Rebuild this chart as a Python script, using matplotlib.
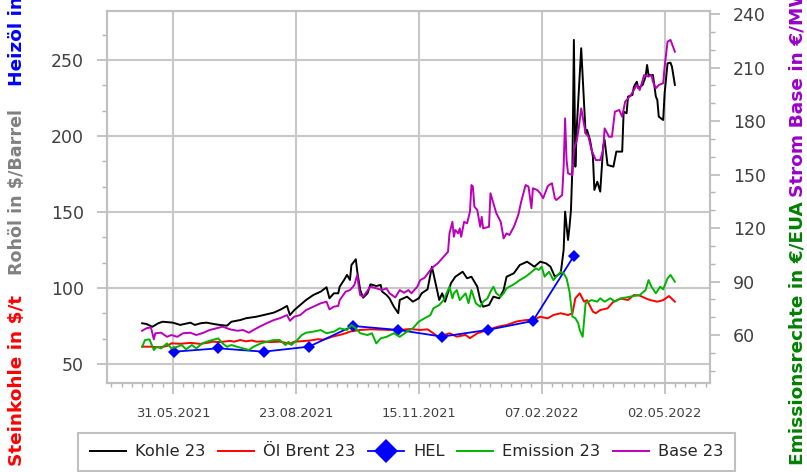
import numpy as np
import matplotlib
matplotlib.use("Agg")
import matplotlib.pyplot as plt
import matplotlib.dates as mdates
from matplotlib.ticker import MultipleLocator, AutoMinorLocator, FixedLocator

plt.rcParams['font.family'] = ['DejaVu Sans']

# day offsets counted from the first trading day
start = np.datetime64('2021-05-10')

kohle_days = [0, 3, 7, 11, 14, 21, 26, 33, 36, 40, 44, 49, 53, 58, 61, 67, 71, 78, 83, 90,
              95, 99, 101, 104, 108, 112, 117, 122, 126, 128, 131, 134, 135, 138, 140, 142,
              143, 146, 147, 149, 151, 154, 156, 160, 163, 164, 167, 169, 172, 175, 176, 181,
              185, 189, 191, 195, 198, 200, 203, 205, 207, 211, 214, 219, 222, 225, 229, 231,
              233, 237, 240, 244, 247, 249, 254, 258, 263, 268, 272, 276, 279, 282, 286, 288,
              289, 291, 292, 293, 294, 295, 296, 297, 300, 303, 304, 306, 308, 309, 311, 313,
              315, 316, 318, 322, 324, 328, 329, 331, 332, 335, 336, 338, 339, 342, 344, 345,
              346, 349, 351, 352, 353, 356, 357, 359, 361, 362, 364]
kohle = [76.8, 76.3, 74.5, 76.8, 77.8, 77.2, 75.7, 77.2, 75.7, 76.8, 77.2, 76.3, 75.7, 75.2,
         77.8, 78.9, 80.1, 81.1, 82.2, 83.8, 86.0, 88.2, 82.2, 85.5, 88.8, 92.1, 95.4, 97.6,
         100.5, 93.2, 96.5, 96.5, 100.9, 105.3, 108.6, 105.3, 115.1, 118.9, 110.7, 98.7, 93.6,
         96.5, 102.4, 101.3, 102.0, 97.6, 95.4, 93.2, 87.7, 83.4, 92.1, 94.3, 91.0, 93.2, 96.5,
         99.1, 114.0, 105.3, 92.1, 96.5, 91.0, 103.1, 107.4, 110.7, 106.4, 107.4, 100.9, 92.1,
         87.7, 88.8, 94.3, 93.2, 98.7, 107.4, 109.7, 115.1, 117.3, 114.0, 117.3, 116.2, 114.0,
         107.4, 109.7, 125.0, 150.2, 131.6, 140.3, 151.3, 179.8, 263.2, 179.8, 206.1, 257.7,
         201.8, 204.0, 197.4, 186.4, 164.5, 169.9, 163.4, 193.0, 197.4, 180.9, 179.8, 189.7,
         189.7, 216.0, 214.9, 225.9, 227.0, 232.4, 235.7, 231.4, 233.6, 239.0, 246.7, 240.1,
         240.1, 225.9, 223.7, 212.7, 210.5, 228.1, 247.8, 248.2, 245.6, 233.6]

oel_days = [0, 5, 12, 17, 20, 26, 33, 40, 46, 48, 53, 60, 63, 67, 71, 75, 78, 83, 87, 94, 99,
            101, 104, 108, 115, 120, 124, 130, 135, 139, 142, 149, 156, 163, 169, 176, 183, 190,
            195, 199, 202, 206, 210, 215, 221, 224, 229, 236, 243, 249, 256, 263, 267, 272, 277,
            281, 286, 291, 294, 296, 299, 302, 304, 308, 310, 313, 318, 322, 327, 332, 336, 340,
            344, 347, 352, 356, 360, 364]
oel = [61.4, 61.4, 61.0, 61.8, 63.6, 63.3, 63.9, 63.2, 64.2, 64.7, 64.4, 65.2, 64.7, 65.8,
       64.9, 65.5, 64.7, 64.9, 64.4, 64.7, 63.8, 63.2, 64.7, 64.9, 65.5, 66.3, 66.0, 68.0, 69.1,
       70.2, 71.3, 72.4, 72.8, 72.6, 72.4, 72.4, 73.0, 72.4, 72.8, 70.2, 68.0, 68.9, 70.2, 68.0,
       69.1, 67.0, 70.2, 72.4, 74.5, 75.6, 78.0, 79.0, 78.9, 81.1, 80.0, 82.2, 83.4, 82.2, 83.4,
       93.2, 96.5, 91.0, 92.0, 84.4, 83.4, 85.5, 86.6, 91.0, 93.0, 92.1, 95.4, 95.0, 93.2, 92.1,
       91.0, 92.0, 94.7, 91.0]

hel_days = [22, 52, 83, 114, 144, 175, 205, 236, 267, 295]
hel = [58.1, 60.3, 58.1, 61.4, 75.0, 72.4, 68.0, 72.4, 78.3, 121.1]

emission_days = [0, 2, 5, 8, 10, 13, 17, 20, 24, 27, 30, 34, 37, 41, 44, 48, 52, 55, 58, 61, 65,
                 69, 73, 76, 81, 85, 90, 94, 98, 100, 102, 106, 109, 112, 117, 122, 126, 131,
                 135, 140, 143, 146, 149, 154, 157, 160, 163, 167, 172, 176, 181, 185, 189, 193,
                 197, 199, 203, 206, 208, 210, 212, 213, 215, 217, 221, 223, 225, 228, 231, 233,
                 236, 238, 240, 242, 245, 247, 249, 253, 255, 258, 262, 265, 269, 271, 273, 275,
                 278, 281, 283, 286, 288, 290, 292, 294, 296, 298, 299, 301, 302, 303, 305, 307,
                 311, 313, 316, 320, 323, 327, 331, 336, 340, 344, 346, 348, 351, 354, 356, 359,
                 361, 364]
emission = [53.4, 57.2, 57.6, 51.6, 53.4, 52.5, 55.3, 52.5, 53.4, 54.4, 52.0, 54.4, 52.5, 55.3,
            56.2, 57.2, 58.1, 55.3, 53.4, 54.4, 53.4, 52.5, 51.6, 53.4, 55.3, 56.2, 57.2, 57.2,
            54.4, 56.2, 54.4, 57.2, 60.0, 61.3, 61.9, 62.8, 61.0, 61.9, 63.8, 62.8, 65.6, 63.8,
            61.0, 60.0, 61.0, 55.3, 58.1, 59.0, 61.0, 59.0, 61.9, 63.8, 67.5, 69.4, 71.2, 75.0,
            76.8, 79.6, 83.4, 87.1, 80.6, 83.4, 85.2, 79.6, 83.4, 77.8, 85.2, 77.8, 75.9, 78.7,
            80.6, 84.3, 87.1, 83.4, 81.5, 83.4, 86.2, 88.0, 89.0, 90.8, 92.7, 94.6, 97.4, 96.5,
            98.3, 92.7, 95.5, 90.8, 92.7, 95.5, 94.6, 91.8, 84.3, 70.3, 69.4, 66.6, 62.8, 59.0,
            68.4, 77.8, 78.7, 79.6, 78.7, 80.6, 78.7, 80.6, 78.7, 80.6, 81.1, 81.9, 82.4, 85.2,
            90.8, 87.1, 83.4, 87.1, 85.6, 91.8, 93.7, 89.9]

base_days = [0, 3, 6, 8, 9, 13, 17, 20, 24, 28, 33, 37, 42, 46, 51, 55, 60, 65, 69, 73, 76, 81,
             85, 90, 94, 99, 101, 104, 108, 112, 117, 122, 126, 128, 131, 134, 135, 139, 142,
             145, 147, 148, 149, 151, 156, 160, 164, 167, 169, 173, 176, 179, 182, 184, 188, 190,
             193, 197, 199, 202, 206, 209, 210, 212, 213, 214, 216, 217, 218, 220, 222, 224, 225,
             226, 227, 229, 231, 232, 233, 237, 238, 240, 242, 245, 247, 249, 251, 254, 257, 259,
             262, 264, 266, 267, 270, 272, 274, 277, 278, 280, 282, 283, 287, 288, 289, 290, 291,
             294, 295, 297, 298, 300, 303, 305, 307, 310, 313, 315, 316, 319, 321, 323, 326, 328,
             330, 334, 336, 338, 340, 343, 346, 348, 349, 351, 353, 356, 357, 359, 361, 364]
base = [62.4, 63.8, 64.3, 57.6, 61.0, 61.3, 59.0, 60.0, 59.0, 61.0, 61.3, 60.0, 61.3, 62.8,
        63.8, 64.7, 63.2, 62.4, 62.8, 61.3, 62.8, 65.0, 66.6, 68.4, 69.4, 71.2, 68.0, 70.3, 71.2,
        74.0, 75.9, 77.8, 78.7, 74.4, 75.9, 76.3, 79.6, 84.3, 85.2, 88.0, 93.7, 87.1, 82.4, 81.5,
        87.1, 86.2, 85.2, 86.2, 83.4, 81.1, 85.2, 83.7, 85.2, 83.4, 87.1, 90.8, 92.1, 96.5, 98.3,
        100.2, 103.9, 106.7, 117.0, 123.5, 115.1, 118.9, 117.0, 119.8, 115.1, 123.5, 122.6,
        129.2, 144.1, 143.2, 132.0, 130.1, 120.7, 126.3, 119.8, 120.7, 139.5, 133.9, 128.3,
        123.5, 114.2, 117.0, 116.1, 120.7, 127.3, 134.8, 144.1, 143.2, 131.1, 142.3, 141.3,
        139.5, 136.7, 143.2, 144.1, 145.1, 136.7, 135.7, 138.5, 154.4, 181.5, 158.1, 150.7,
        149.7, 163.8, 169.4, 174.0, 187.1, 173.1, 171.2, 163.8, 158.1, 158.1, 163.8, 175.9,
        171.2, 171.2, 185.2, 186.2, 182.4, 190.8, 194.6, 197.4, 200.2, 197.4, 205.8, 204.9,
        205.8, 202.1, 198.4, 200.2, 201.2, 210.5, 224.5, 225.5, 218.9]

tick_dates = ['2021-05-31', '2021-08-23', '2021-11-15', '2022-02-07', '2022-05-02']
labels = ['Kohle 23', 'Öl Brent 23', 'HEL', 'Emission 23', 'Base 23']


def to_dates(days):
    return start + np.array(days).astype('timedelta64[D]')


fig = plt.figure(figsize=(8.07, 4.72), dpi=100)
ax = fig.add_axes([107 / 807, 89 / 472, 603 / 807, 372 / 472])
ax2 = ax.twinx()

l1, = ax.plot(to_dates(kohle_days), kohle, color='black', lw=1.4)
l2, = ax.plot(to_dates(oel_days), oel, color='#ff0000', lw=1.4)
l3, = ax.plot(to_dates(hel_days), hel, color='#0000ff', lw=1.3, marker='D',
              markersize=6.5, markeredgewidth=0)
l4, = ax2.plot(to_dates(emission_days), emission, color='#00b400', lw=1.4)
l5, = ax2.plot(to_dates(base_days), base, color='#bb00bb', lw=1.4)

ax.set_xlim(np.datetime64('2021-04-16'), np.datetime64('2022-06-02'))
ax.set_ylim(37.5, 282.2)
ax2.set_ylim(33.1, 241.7)

ax.xaxis.set_major_locator(FixedLocator(mdates.date2num(np.array(tick_dates, dtype='datetime64[D]'))))
ax.xaxis.set_major_formatter(mdates.DateFormatter('%d.%m.%Y'))
ax.xaxis.set_minor_locator(mdates.WeekdayLocator(byweekday=mdates.MO))
ax.yaxis.set_major_locator(MultipleLocator(50))
ax.yaxis.set_minor_locator(AutoMinorLocator(3))
ax2.yaxis.set_major_locator(MultipleLocator(30))
ax2.yaxis.set_minor_locator(AutoMinorLocator(3))

ax.set_axisbelow(True)
ax.grid(True, which='major', color='#c8c8c8', lw=1.5)

gray = '#b4b4b4'
for a in (ax, ax2):
    for s in a.spines.values():
        s.set_color('#c0c0c0')
        s.set_linewidth(1.5)
    a.tick_params(which='major', length=7.5, width=1.1, color=gray, labelcolor='#404040')
    a.tick_params(which='minor', length=3.5, width=1.0, color=gray)
ax.tick_params(axis='y', which='major', labelsize=12.5, pad=9)
ax2.tick_params(axis='y', which='major', labelsize=12.5, pad=9)
ax.tick_params(axis='x', which='major', labelsize=9.4, pad=9, length=8)
ax.tick_params(axis='x', which='minor', length=3)

# axis titles, several colours stacked vertically
fs = 13.3
fig.text(17 / 807, 6 / 472, 'Steinkohle in $/t', rotation=90, ha='center', va='bottom',
         color='#ff0000', fontsize=fs, fontweight='bold')
fig.text(17 / 807, 197 / 472, 'Rohöl in $/Barrel', rotation=90, ha='center', va='bottom',
         color='#808080', fontsize=12.6, fontweight='bold')
fig.text(17 / 807, 386 / 472, 'Heizöl in', rotation=90, ha='center', va='bottom',
         color='#0000ff', fontsize=fs, fontweight='bold')
fig.text(797 / 807, 7 / 472, 'Emissionsrechte in €/EUA', rotation=90, ha='center', va='bottom',
         color='#008000', fontsize=fs, fontweight='bold')
fig.text(797 / 807, 275 / 472, 'Strom Base in €/MWh', rotation=90, ha='center', va='bottom',
         color='#9900cc', fontsize=fs, fontweight='bold')

leg = fig.legend([l1, l2, l3, l4, l5], labels, loc='upper center',
                 bbox_to_anchor=(0.504, 0.0826), ncol=5, fontsize=11.7, frameon=True,
                 fancybox=False, edgecolor='#c0c0c0', framealpha=1, handlelength=2.2,
                 handletextpad=0.6, columnspacing=0.75, borderpad=0.7, borderaxespad=0,
                 markerscale=1.85)
leg.get_frame().set_linewidth(1.5)
for t in leg.get_texts():
    t.set_color('#262626')

fig.savefig('out.png', dpi=100)
